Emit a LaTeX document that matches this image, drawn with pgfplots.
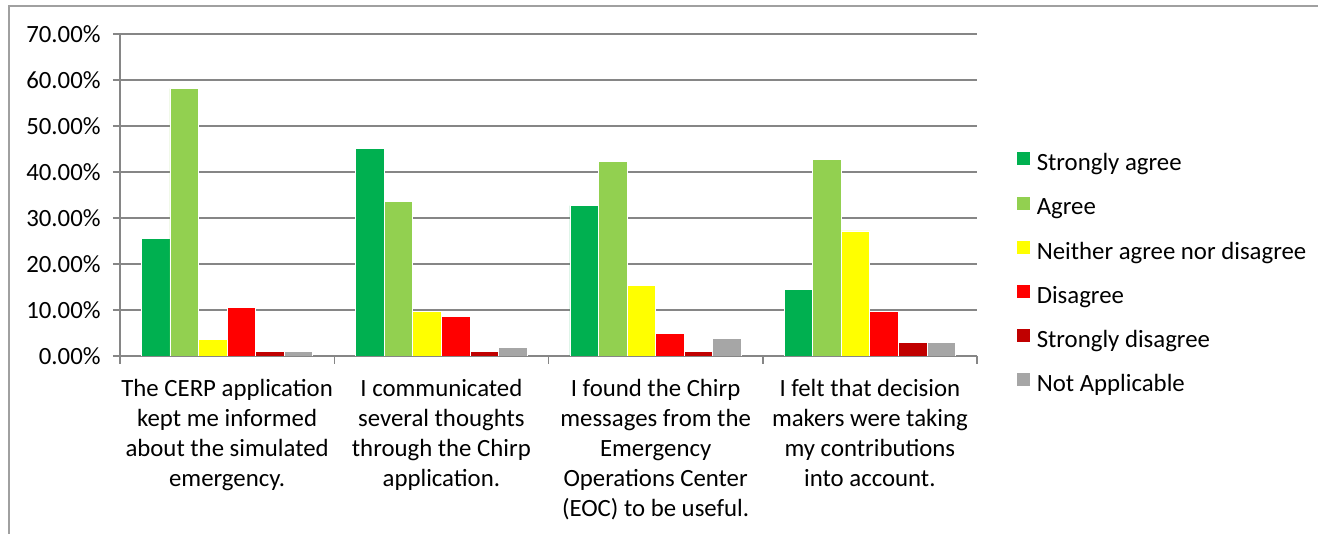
\documentclass[border=0pt]{standalone}
\usepackage{fontspec}
\setmainfont{Carlito}
\usepackage{pgfplots}
\pgfplotsset{compat=1.18}
\definecolor{sagree}{HTML}{00B050}
\definecolor{agree}{HTML}{92D050}
\definecolor{neither}{HTML}{FFFF00}
\definecolor{disagree}{HTML}{FF0000}
\definecolor{sdis}{HTML}{C00000}
\definecolor{na}{HTML}{A6A6A6}
\definecolor{gridc}{HTML}{868686}
\definecolor{framec}{HTML}{A0A0A0}
\begin{document}
\begin{tikzpicture}[x=1pt,y=1pt,font=\fontsize{12.4}{15}\selectfont]
\begin{axis}[
  at={(60pt,89pt)}, anchor=south west,
  width=428.5pt, height=161pt, scale only axis,
  ybar=0pt, bar width=0.13333,
  xmin=-0.5, xmax=3.5, ymin=0, ymax=70,
  xtick={0,1,2,3},
  xticklabels={{The CERP application\\kept me informed\\about the simulated\\emergency.},
               {I communicated\\several thoughts\\through the Chirp\\application.},
               {I found the Chirp\\messages from the\\Emergency\\Operations Center\\(EOC) to be useful.},
               {I felt that decision\\makers were taking\\my contributions\\into account.}},
  minor xtick={-0.5,0.5,1.5,2.5,3.5},
  major x tick style={draw=none},
  ytick={0,10,20,30,40,50,60,70},
  yticklabels={0.00\%,10.00\%,20.00\%,30.00\%,40.00\%,50.00\%,60.00\%,70.00\%},
  axis x line*=bottom, axis y line*=left,
  axis line style={gridc, line width=0.75pt},
  ymajorgrids, grid style={gridc, line width=0.75pt},
  tick align=outside,
  tick style={gridc, line width=0.75pt},
  major tick length=3.5pt, minor tick length=4pt,
  xticklabel style={align=center, anchor=north, inner sep=0pt, yshift=-8pt},
  yticklabel style={anchor=east, inner sep=0pt, xshift=-6pt},
  legend style={at={(1.0455,0.6357)}, anchor=north west, draw=none, fill=none,
    inner sep=0pt, outer sep=0pt, row sep=9.4pt, column sep=3pt,
    nodes={inner sep=0pt, text height=8pt, text depth=3pt}},
  legend cell align=left,
  legend image code/.code={\fill[#1] (0pt,0pt) rectangle (7pt,7pt);},
  every axis plot/.append style={draw=white, line width=0.4pt},
]
\addplot[fill=sagree] coordinates {(0,25.6) (1,45.19) (2,32.69) (3,14.56)};
\addplot[fill=agree] coordinates {(0,58.1) (1,33.65) (2,42.31) (3,42.72)};
\addplot[fill=neither] coordinates {(0,3.5) (1,9.62) (2,15.38) (3,27.18)};
\addplot[fill=disagree] coordinates {(0,10.5) (1,8.65) (2,4.81) (3,9.71)};
\addplot[fill=sdis] coordinates {(0,1.0) (1,0.96) (2,0.96) (3,2.91)};
\addplot[fill=na] coordinates {(0,1.0) (1,1.92) (2,3.85) (3,2.91)};
\legend{Strongly agree,Agree,Neither agree nor disagree,Disagree,Strongly disagree,Not Applicable}
\end{axis}
\draw[framec, line width=0.75pt] (4.5pt,-5pt) |- (665pt,264pt);
\pgfresetboundingbox
\path (0,0) rectangle (659pt,267pt);
\end{tikzpicture}
\end{document}
